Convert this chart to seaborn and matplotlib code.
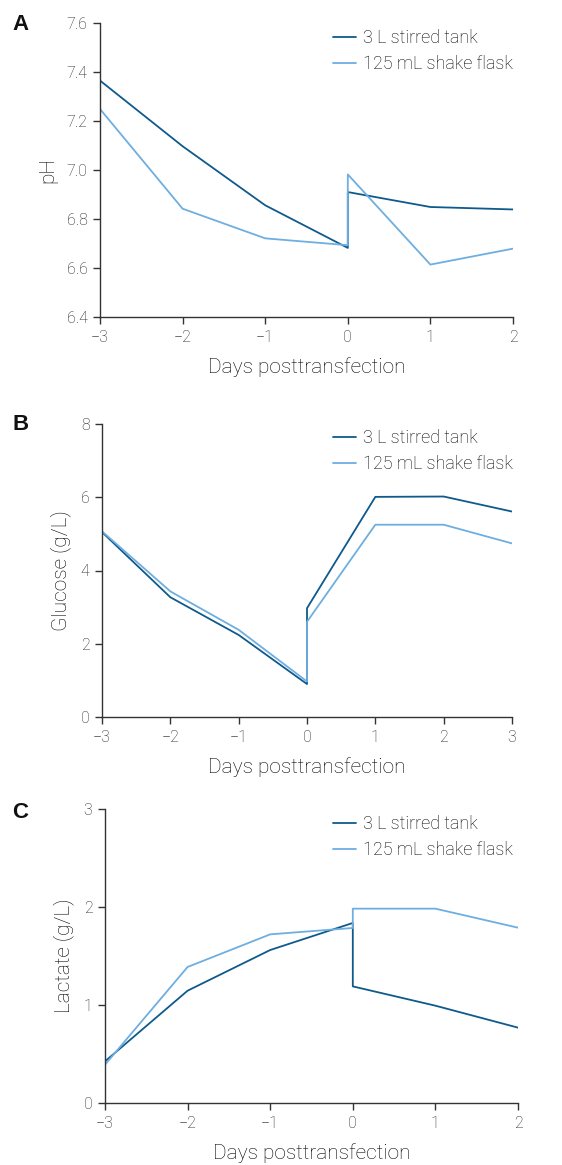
import numpy as np
import pandas as pd
import matplotlib
matplotlib.use("Agg")
import matplotlib.pyplot as plt
import seaborn as sns

# ---- data ----
series_names = ["3 L stirred tank", "125 mL shake flask"]
days_a = [-3, -2, -1, 0, 0, 1, 2]
ph_tank = [7.365, 7.097, 6.856, 6.682, 6.910, 6.849, 6.839]
ph_flask = [7.249, 6.842, 6.721, 6.693, 6.982, 6.614, 6.679]

days_b = [-3, -2, -1, 0, 0, 1, 2, 3]
glucose_tank = [5.05, 3.27, 2.24, 0.90, 2.97, 6.01, 6.02, 5.61]
glucose_flask = [5.07, 3.43, 2.38, 0.97, 2.60, 5.25, 5.25, 4.74]

days_c = [-3, -2, -1, 0, 0, 1, 2]
lactate_tank = [0.425, 1.146, 1.561, 1.837, 1.19, 0.993, 0.769]
lactate_flask = [0.391, 1.388, 1.721, 1.786, 1.983, 1.983, 1.789]

ph_ticks = [6.4, 6.6, 6.8, 7.0, 7.2, 7.4, 7.6]
glucose_ticks = [0, 2, 4, 6, 8]
lactate_ticks = [0, 1, 2, 3]

sns.set_theme(style="ticks")
plt.rcParams['font.family'] = ['Roboto', 'DejaVu Sans']
plt.rcParams['font.weight'] = 'light'
plt.rcParams['axes.labelweight'] = 'light'

DARK = "#0f5a8c"
LIGHT = "#6eaee0"
palette = {series_names[0]: DARK, series_names[1]: LIGHT}

def long_df(days, a, b):
    rows = []
    for i, (d, v) in enumerate(zip(days, a)):
        rows.append({"day": d, "value": v, "series": series_names[0], "order": i})
    for i, (d, v) in enumerate(zip(days, b)):
        rows.append({"day": d, "value": v, "series": series_names[1], "order": i})
    return pd.DataFrame(rows)

fig = plt.figure(figsize=(5.62, 11.65), dpi=100)
W, H = 562, 1165

def make_ax(x0, x1, ytop, ybot):
    return fig.add_axes([x0 / W, 1 - ybot / H, (x1 - x0) / W, (ybot - ytop) / H])

panels = [
    dict(box=(100, 513, 23, 317), days=days_a, a=ph_tank, b=ph_flask,
         ylim=(6.4, 7.6), yticks=ph_ticks, xlim=(-3, 2), ylabel="pH",
         fmt="{:.1f}", letter="A", letter_y=25, leg_y=41),
    dict(box=(102, 512, 424, 717), days=days_b, a=glucose_tank, b=glucose_flask,
         ylim=(0, 8), yticks=glucose_ticks, xlim=(-3, 3), ylabel="Glucose (g/L)",
         fmt="{:g}", letter="B", letter_y=425, leg_y=441),
    dict(box=(105, 518, 809, 1103), days=days_c, a=lactate_tank, b=lactate_flask,
         ylim=(0, 3), yticks=lactate_ticks, xlim=(-3, 2), ylabel="Lactate (g/L)",
         fmt="{:g}", letter="C", letter_y=812, leg_y=827),
]

for p in panels:
    ax = make_ax(*p["box"])
    df = long_df(p["days"], p["a"], p["b"])
    sns.lineplot(data=df, x="day", y="value", hue="series", palette=palette,
                 estimator=None, sort=False, units="series", linewidth=1.3,
                 ax=ax, legend=False)
    ax.set_xlim(*p["xlim"])
    ax.set_ylim(*p["ylim"])
    ax.set_yticks(p["yticks"])
    ax.set_yticklabels([p["fmt"].format(t) for t in p["yticks"]])
    xt = list(range(p["xlim"][0], p["xlim"][1] + 1))
    ax.set_xticks(xt)
    ax.set_xticklabels([("\u2212" + str(-t)) if t < 0 else str(t) for t in xt])
    sns.despine(ax=ax)
    for s in ["left", "bottom"]:
        ax.spines[s].set_color("#333333")
        ax.spines[s].set_linewidth(1.0)
    ax.tick_params(axis="both", direction="out", length=5, width=1.0,
                   color="#333333", labelcolor="#222222", labelsize=11.5, pad=4)
    ax.set_xlabel("Days posttransfection", fontsize=15, color="#000000",
                  labelpad=9, fontweight="light")
    ax.set_ylabel(p["ylabel"], fontsize=15, color="#000000", labelpad=7,
                  fontweight="light")
    handles = [plt.Line2D([], [], color=DARK, lw=1.3),
               plt.Line2D([], [], color=LIGHT, lw=1.3)]
    leg = fig.legend(handles, series_names, loc="upper left",
                     bbox_to_anchor=(333 / W, 1 - (p["leg_y"] - 12) / H),
                     frameon=False, fontsize=13, handlelength=1.25,
                     handletextpad=0.4, labelspacing=0.45, borderaxespad=0,
                     borderpad=0)
    for t in leg.get_texts():
        t.set_color("#000000")
    fig.text(12 / W, 1 - p["letter_y"] / H, p["letter"], fontsize=16,
             fontweight="bold", family=["Liberation Sans", "DejaVu Sans"],
             va="center", ha="left", color="#111111")

fig.savefig("out.png", dpi=100)
